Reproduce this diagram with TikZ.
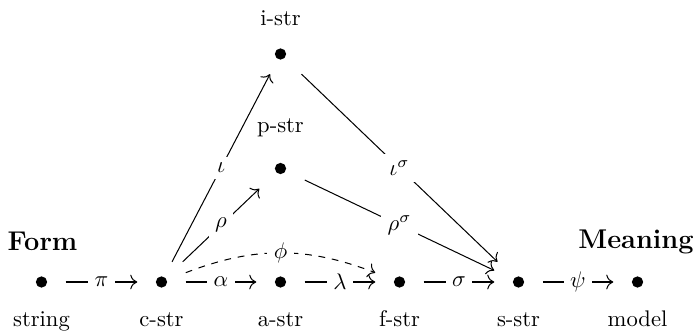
\documentclass[tikz,border=0pt]{standalone}
\usetikzlibrary{arrows.meta}
\begin{document}
\begin{tikzpicture}[x=0.4425pt,y=-0.4425pt,
  >={To[scale=1.2]}, line width=0.45pt,
  pt/.style={rectangle, minimum width=21pt, minimum height=17.4pt, inner sep=0pt,
    path picture={\fill (path picture bounding box.center) circle (2.5pt);}},
  lbl/.style={fill=white, inner sep=2.8pt},
  nm/.style={anchor=base, inner sep=0pt},
  hd/.style={anchor=base, inner sep=0pt, font=\large\bfseries}]
\useasboundingbox (0,0) rectangle (698,332);
\node[pt] (s) at (41.5,282) {};
\node[pt] (c) at (161.5,282) {};
\node[pt] (a) at (280.5,282) {};
\node[pt] (f) at (399.5,282) {};
\node[pt] (ss) at (518.5,282) {};
\node[pt] (m) at (637.5,282) {};
\node[pt] (p) at (280.5,168.5) {};
\node[pt] (i) at (280.5,54) {};
\node[nm] (ls) at (41.5,326) {string};
\node[nm] (lc) at (161.5,326) {c-str};
\node[nm] (la) at (280.5,326) {a-str};
\node[nm] (lf) at (399.5,326) {f-str};
\node[nm] (lss) at (518.5,326) {s-str};
\node[nm] (lm) at (637.5,326) {model};
\node[nm] (lp) at (280.5,133) {p-str};
\node[nm] (li) at (280.5,25.5) {i-str};
\node[hd] (form) at (42.5,251) {Form};
\node[hd] (mean) at (636,248) {Meaning};
\draw[->] (s) -- node[lbl] {$\pi$} (c);
\draw[->] (c) -- node[lbl] {$\alpha$} (a);
\draw[->] (a) -- node[lbl] {$\lambda$} (f);
\draw[->] (f) -- node[lbl] {$\sigma$} (ss);
\draw[->] (ss) -- node[lbl] {$\psi$} (m);
\draw[->] (c) -- node[lbl] {$\iota$} (i);
\draw[->] (c) -- node[lbl] {$\rho$} (p);
\draw[->] (i) -- node[lbl] {$\iota^\sigma$} (ss);
\draw[->] (p) -- node[lbl] {$\rho^\sigma$} (ss);
\draw[->,dashed] (c) to[bend left=21] node[lbl] {$\phi$} (f);
\end{tikzpicture}
\end{document}
